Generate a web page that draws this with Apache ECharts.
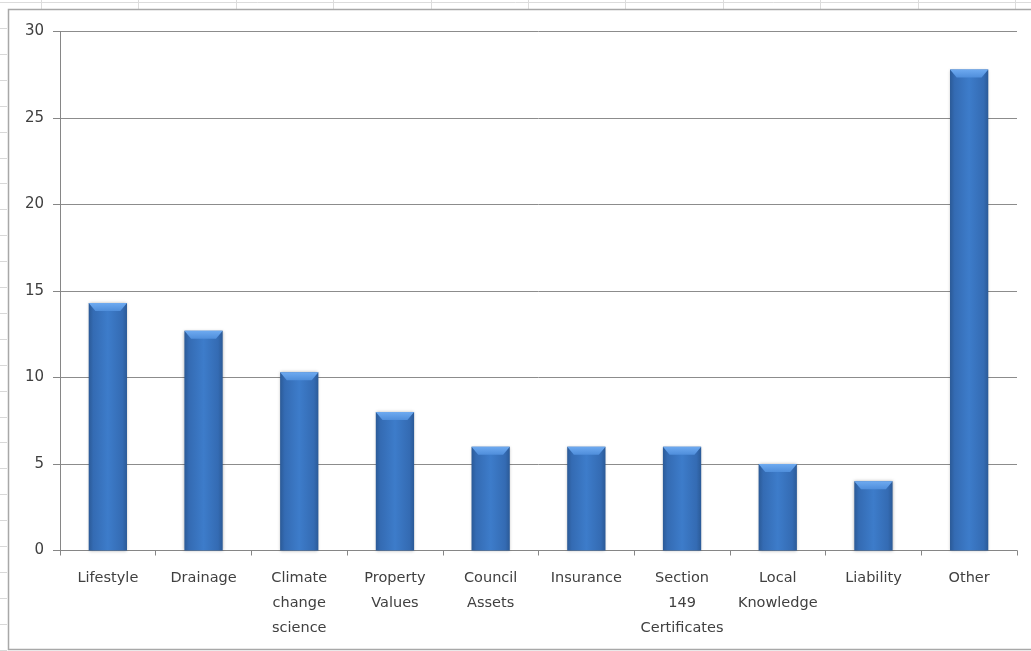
<!DOCTYPE html>
<html>
<head>
<meta charset="utf-8">
<script src="https://cdn.jsdelivr.net/npm/echarts@6/dist/echarts.min.js"></script>
<style>html,body{margin:0;padding:0;background:#fff;}#c{width:1031px;height:651px;}</style>
</head>
<body>
<div id="c"></div>
<script>
var categories = ['Lifestyle', 'Drainage', 'Climate\nchange\nscience', 'Property\nValues', 'Council\nAssets', 'Insurance', 'Section\n149\nCertificates', 'Local\nKnowledge', 'Liability', 'Other'];
var values = [14.3, 12.7, 10.3, 8, 6, 6, 6, 5, 4, 27.8];
var yTicks = [0, 5, 10, 15, 20, 25, 30];

var chart = echarts.init(document.getElementById('c'));

// decorative spreadsheet background + chart frame
var deco = [];
deco.push({type:'line', shape:{x1:0,y1:2.5,x2:1031,y2:2.5}, style:{stroke:'#dcdcdc',lineWidth:1}, silent:true});
[41,138,236,333,431,528,625,723,820,918,1015].forEach(function(x){
  deco.push({type:'line', shape:{x1:x+0.5,y1:0,x2:x+0.5,y2:10}, style:{stroke:'#dcdcdc',lineWidth:1}, silent:true});
});
for (var i = 0; i < 25; i++) {
  var yy = Math.round(28 + i * 25.9) + 0.5;
  deco.push({type:'line', shape:{x1:0,y1:yy,x2:7,y2:yy}, style:{stroke:'#d8d8d8',lineWidth:1}, silent:true});
}
deco.push({type:'rect', shape:{x:8.5,y:9.5,width:1040,height:640}, style:{fill:null,stroke:'#a8a8a8',lineWidth:1.5}, silent:true});

var barGrad = new echarts.graphic.LinearGradient(0, 0, 1, 0, [
  {offset:0, color:'#2b5a97'},
  {offset:0.12, color:'#346bb3'},
  {offset:0.5, color:'#3d7cca'},
  {offset:0.88, color:'#346bb3'},
  {offset:1, color:'#2b5a97'}
]);
var capGrad = new echarts.graphic.LinearGradient(0, 0, 0, 1, [
  {offset:0, color:'#6eaaf0'},
  {offset:1, color:'#4f8edb'}
]);

chart.setOption({
  animation:false,
  backgroundColor:'#ffffff',
  graphic: deco,
  grid:{left:60, right:14, top:31.5, bottom:100.5, containLabel:false},
  xAxis:{
    type:'category',
    data:categories,
    axisLine:{lineStyle:{color:'#868686', width:1}},
    axisTick:{show:true, length:5, alignWithLabel:false, lineStyle:{color:'#868686'}},
    axisLabel:{interval:0, color:'#404040', fontFamily:'DejaVu Sans', fontSize:14.5, lineHeight:25, margin:15}
  },
  yAxis:{
    type:'value',
    min:0, max:30, interval:5,
    axisLine:{show:true, lineStyle:{color:'#868686', width:1}},
    axisTick:{show:true, length:7, lineStyle:{color:'#868686'}},
    axisLabel:{color:'#404040', fontFamily:'DejaVu Sans', fontSize:15, margin:16,
      formatter:function(v){ return yTicks.indexOf(v) >= 0 ? String(v) : ''; }},
    splitLine:{show:true, lineStyle:{color:'#8c8c8c', width:1}}
  },
  series:[
    {
      type:'bar',
      data:values,
      barWidth:'40%',
      barGap:'-100%',
      itemStyle:{color:barGrad,
        shadowColor:'rgba(0,0,0,0.3)', shadowBlur:3, shadowOffsetX:0, shadowOffsetY:0},
      z:2
    },
    {
      type:'pictorialBar',
      data:values,
      barWidth:'40%',
      barGap:'-100%',
      symbol:'path://M0,0 L40,0 L33,8 L7,8 Z',
      symbolSize:['100%', 8],
      symbolPosition:'end',
      symbolOffset:[0, 0],
      itemStyle:{color:capGrad},
      silent:true,
      z:3
    }
  ]
});
</script>
</body>
</html>
